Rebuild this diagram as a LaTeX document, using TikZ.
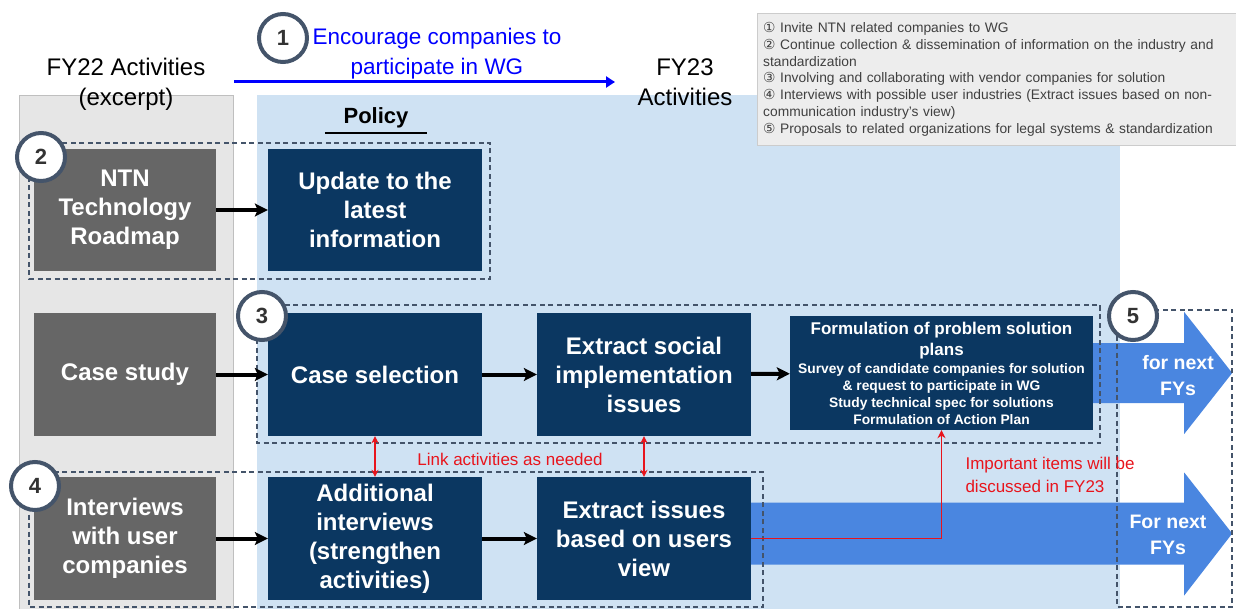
\documentclass[tikz,border=0pt]{standalone}
\usepackage{fontspec}
\setmainfont{Liberation Sans}
\newfontfamily\symfont{DejaVu Sans}
\usepackage{tikz}
\usetikzlibrary{arrows.meta}
\definecolor{navy}{HTML}{0B3761}
\definecolor{boxgray}{HTML}{666666}
\definecolor{ringgray}{HTML}{44546A}
\definecolor{fyblue}{HTML}{4A86E0}
\definecolor{panelblue}{HTML}{CFE2F3}
\definecolor{panelgray}{HTML}{E6E6E6}
\definecolor{legendgray}{HTML}{EDEDED}
\definecolor{linkred}{HTML}{E8141C}
\newcommand{\fs}[2]{\fontsize{#1}{#2}\selectfont}
\newcommand{\cnum}[1]{{\symfont #1}}

\begin{document}
\begin{tikzpicture}[x=1pt,y=-1pt,
  oldbox/.style={fill=boxgray, text=white, font=\bfseries\fs{24}{29}, align=center, minimum width=182pt, minimum height=122pt, inner sep=0pt},
  newbox/.style={fill=navy, text=white, font=\bfseries\fs{24}{29}, align=center, minimum width=214pt, minimum height=123pt, inner sep=0pt},
  ring/.style={circle, draw=ringgray, line width=4pt, fill=white, minimum size=48pt, inner sep=0pt, font=\bfseries\fs{22}{22}, text=black!80},
  group/.style={draw=ringgray, line width=1.3pt, dash pattern=on 5pt off 3.5pt},
  flow/.style={-{Stealth[length=13pt,width=13pt,inset=3pt]}, line width=4pt},
  linkarrow/.style={linkred, line width=1.2pt, {Stealth[length=7pt,width=7pt]}-{Stealth[length=7pt,width=7pt]}},
  nextfy/.style={text=white, font=\bfseries\fs{19.5}{26}, align=center}]
\useasboundingbox (0,0) rectangle (1236,609);

\fill[panelgray, draw=gray!50] (19,95) rectangle (233,609);
\fill[panelblue] (257,95) rectangle (1120,609);

\node[fill=legendgray, draw=gray!40, anchor=north west, minimum width=479pt, minimum height=132pt, text width=467pt, align=left, inner xsep=6pt, text=black!75, font=\fs{13.8}{16.8}] (legend) at (757,13)
{\cnum{①} Invite NTN related companies to WG\\
\cnum{②} Continue collection \& dissemination of information on the industry and\\
standardization\\
\cnum{③} Involving and collaborating with vendor companies for solution\\
\cnum{④} Interviews with possible user industries (Extract issues based on non-\\
communication industry's view)\\
\cnum{⑤} Proposals to related organizations for legal systems \& standardization};

\node[font=\fs{24}{30}, align=center] (fy22title) at (126,84) {FY22 Activities\\(excerpt)};
\node[font=\fs{24}{30}, align=center] (fy23title) at (685,82) {FY23\\Activities};
\coordinate (fy22) at (234,82);
\coordinate (fy23) at (615,82);
\draw[blue, line width=3pt, -{Triangle[length=9pt,width=11pt]}] (fy22) -- (fy23);
\node[blue, font=\fs{22.5}{30}, align=center] (encourage) at (437,53.5) {Encourage companies to\\participate in WG};

\node[font=\bfseries\fs{22}{22}, minimum width=102pt, minimum height=30pt, inner sep=0pt] (policy) at (376,118) {Policy};
\draw[line width=2pt] (policy.south west) -- (policy.south east);

\node[oldbox] (ntn) at (125,210) {NTN\\Technology\\Roadmap};
\node[newbox, minimum height=122pt] (update) at (375,210) {Update to the\\latest\\information};
\node[oldbox, minimum height=123pt] (casestudy) at (125,374.5) {Case study};
\node[newbox] (casesel) at (375,374.5) {Case selection};
\node[newbox] (extractsocial) at (644,374.5) {Extract social\\implementation\\issues};
\node[fill=navy, text=white, align=center, minimum width=303pt, minimum height=114pt, inner sep=0pt, font=\bfseries\fs{13.8}{17}] (formulation) at (941.5,373)
{\fs{17}{21}Formulation of problem solution\\[4pt]\fs{17}{21}plans\\[1pt]
Survey of candidate companies for solution\\\& request to participate in WG\\Study technical spec for solutions\\Formulation of Action Plan};
\node[oldbox, minimum height=123pt] (interviews) at (125,538.5) {Interviews\\with user\\companies};
\node[newbox] (addint) at (375,538.5) {Additional\\interviews\\(strengthen\\activities)};
\node[newbox] (extractusers) at (644,538.5) {Extract issues\\based on users\\view};

\fill[fyblue] (formulation.east) ++(0,-30) -- ++(91,0) -- ++(0,-31) -- ++(48,61) -- ++(-48,61) -- ++(0,-31) -- ++(-91,0) -- cycle;
\fill[fyblue] (extractusers.east) ++(0,-36) -- ++(433,0) -- ++(0,-30) -- ++(48,61) -- ++(-48,62) -- ++(0,-31) -- ++(-433,0) -- cycle;
\node[nextfy] (nextfy1) at (1178,376) {for next\\FYs};
\node[nextfy] (nextfy2) at (1168,535) {For next\\FYs};

\draw[group] (29,143) rectangle (490,279);
\draw[group] (257,305) rectangle (1100,443);
\draw[group] (29,472) rectangle (763,607);
\draw[group] (1117,310) rectangle (1232,607);

\draw[flow] (ntn) -- (update);
\draw[flow] (casestudy) -- (casesel);
\draw[flow] (casesel) -- (extractsocial);
\draw[flow] (extractsocial) -- (formulation);
\draw[flow] (interviews) -- (addint);
\draw[flow] (addint) -- (extractusers);

\draw[linkarrow] (casesel) -- (addint);
\draw[linkarrow] (extractsocial) -- (extractusers);
\node[linkred, font=\fs{17}{20}] (linktext) at (510,459) {Link activities as needed};
\draw[linkred, line width=1.5pt, -{Stealth[length=8pt,width=8pt]}] (extractusers.east) -| (formulation.south);
\node[linkred, font=\fs{17}{23}, align=left, anchor=west] (important) at (962,474.5) {Important items will be\\discussed in FY23};

\node[ring] (ring1) at (283,38) {1};
\node[ring] (ring2) at (41,157) {2};
\node[ring] (ring3) at (262,316) {3};
\node[ring] (ring4) at (35,486) {4};
\node[ring] (ring5) at (1133,316) {5};
\end{tikzpicture}
\end{document}
